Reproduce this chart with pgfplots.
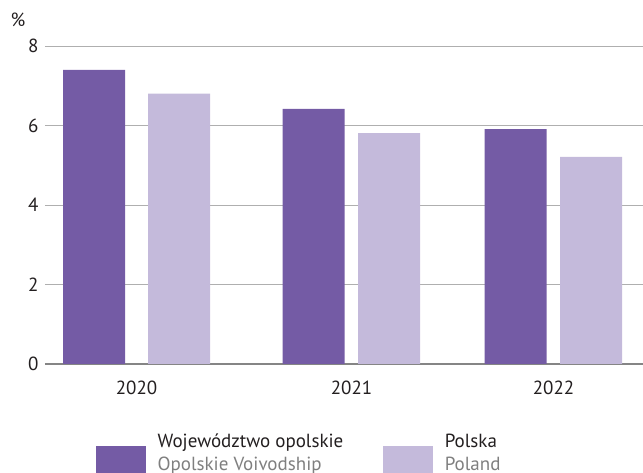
\documentclass[border=0pt]{standalone}
\usepackage{fontspec}
\setmainfont{PT Sans}
\usepackage{pgfplots}
\pgfplotsset{compat=1.18}
\definecolor{dark}{HTML}{745BA5}
\definecolor{light}{HTML}{C4BADB}
\definecolor{gridc}{HTML}{AFAFAF}
\definecolor{axc}{HTML}{858585}
\definecolor{txt}{HTML}{231F20}
\definecolor{sub}{HTML}{7F7F7F}
\begin{document}
\begin{tikzpicture}[x=1pt,y=1pt]
\useasboundingbox (-45,-109) rectangle (598,364);
\begin{axis}[
  at={(0,0)}, anchor=south west,
  scale only axis, width=598pt, height=318pt,
  xmin=45, xmax=643, ymin=0, ymax=8,
  clip=false,
  axis line style={draw=none},
  major tick length=0pt,
  ytick={2,4,6,8},
  extra y ticks={0},
  extra y tick style={grid style={color=axc, line width=1.4pt}},
  ymajorgrids,
  grid style={color=gridc, line width=0.9pt},
  xtick={136.5,351.5,553.5},
  xticklabels={2020,2021,2022},
  /pgf/number format/assume math mode=true,
  tick label style={font=\fontsize{19}{22}\selectfont, text=txt},
  yticklabel style={xshift=-3pt},
  xticklabel style={yshift=-13pt},
  legend style={at={(axis cs:93,-1.6)}, anchor=north west, draw=none, fill=none,
    font=\fontsize{19}{22.5}\selectfont, text=txt,
    legend columns=2, legend cell align=left,
    /tikz/every even column/.append style={column sep=38pt},
    /tikz/every odd column/.append style={column sep=10pt}},
]
\addplot[ybar, bar width=62, bar shift=0pt, fill=dark, draw=none, forget plot]
  coordinates {(94,7.4) (313.5,6.42) (515.5,5.91)};
\addplot[ybar, bar width=62, bar shift=0pt, fill=light, draw=none, forget plot]
  coordinates {(179,6.8) (389,5.81) (591,5.21)};
\addlegendimage{legend image code/.code={\fill[dark] (0pt,-29pt) rectangle (49pt,0pt);}}
\addlegendentry{\begin{tabular}{@{}l@{}}Województwo opolskie\\{\color{sub}Opolskie Voivodship}\end{tabular}}
\addlegendimage{legend image code/.code={\fill[light] (0pt,-29pt) rectangle (49pt,0pt);}}
\addlegendentry{\begin{tabular}{@{}l@{}}Polska\\{\color{sub}Poland}\end{tabular}}
\node[font=\fontsize{19}{22}\selectfont, text=txt] at (axis cs:18,8.65) {\%};
\end{axis}
\end{tikzpicture}
\end{document}
